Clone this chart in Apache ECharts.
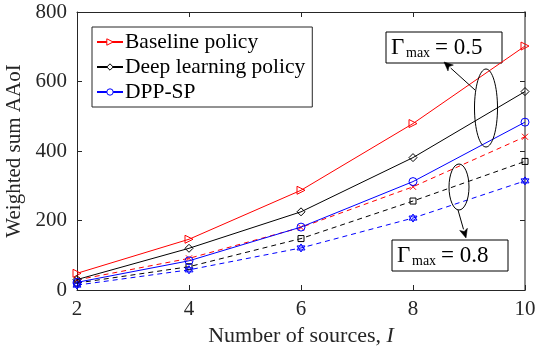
<!DOCTYPE html>
<html>
<head>
<meta charset="utf-8">
<script src="https://cdn.jsdelivr.net/npm/echarts@6/dist/echarts.min.js"></script>
<style>
  html, body { margin: 0; padding: 0; background: #fff; }
  #chart { width: 536px; height: 350px; }
</style>
</head>
<body>
<div id="chart"></div>
<script>
// Number of sources
const sources = [2, 4, 6, 8, 10];
const xTicks = [2, 4, 6, 8, 10];
const yTicks = [0, 200, 400, 600, 800];

// Weighted sum AAoI, Gamma_max = 0.5 (solid lines)
const baseline05 = [48, 146, 287, 479, 702];
const deep05 = [30, 120, 225, 381, 571];
const dpp05 = [22, 84, 181, 312, 483];

// Weighted sum AAoI, Gamma_max = 0.8 (dashed lines)
const baseline08 = [29, 91, 180, 297, 441];
const deep08 = [20, 67, 148, 256, 370];
const dpp08 = [14, 58, 121, 207, 314];

const legendNames = ['Baseline policy', 'Deep learning policy', 'DPP-SP'];

const SERIF = '"Liberation Serif", "DejaVu Serif", serif';
const AXIS = '#262626';
const RED = '#ff0000', BLACK = '#000000', BLUE = '#0000ff';

const pairs = arr => sources.map((x, i) => [x, arr[i]]);

const X_PATH = 'path://M0,0 L10,10 M10,0 L0,10';
const STAR_PATH = 'path://M5,0 L9.33,7.5 L0.67,7.5 Z M5,10 L0.67,2.5 L9.33,2.5 Z';

function series(name, data, color, dashed, symbol, size, rotate) {
  return {
    name: name,
    type: 'line',
    data: pairs(data),
    symbol: symbol,
    symbolSize: size,
    symbolRotate: rotate || 0,
    showSymbol: true,
    animation: false,
    lineStyle: { color: color, width: 1, type: dashed ? [5, 4] : 'solid' },
    itemStyle: { color: 'rgba(255,255,255,0)', borderColor: color, borderWidth: 1 },
    emphasis: { disabled: true },
    z: dashed ? 2 : 3
  };
}

const chart = echarts.init(document.getElementById('chart'), null, { renderer: 'canvas' });

const legendColors = [RED, BLACK, BLUE];

chart.setOption({
  backgroundColor: '#fff',
  animation: false,
  textStyle: { fontFamily: SERIF },
  grid: { left: 77, right: 11, top: 12, bottom: 60, containLabel: false, outerBoundsMode: 'none' },
  legend: {
    left: 92, top: 27,
    orient: 'vertical',
    backgroundColor: '#fff',
    borderColor: AXIS,
    borderWidth: 1,
    borderRadius: 0,
    padding: [4, 7, 4, 4],
    itemGap: 3,
    itemWidth: 26,
    itemHeight: 8,
    textStyle: { fontFamily: SERIF, fontSize: 21.5, color: '#000', padding: [0, 0, 0, -3] },
    data: legendNames.map((n, i) => ({
      name: n,
      itemStyle: { color: '#fff', borderColor: legendColors[i], borderWidth: 1 }
    }))
  },
  xAxis: [{
    type: 'value', min: 2, max: 10, interval: 2,
    name: 'Number of sources, {i|I}',
    nameLocation: 'middle', nameGap: 35,
    nameTextStyle: {
      fontFamily: SERIF, fontSize: 22, color: '#262626',
      rich: { i: { fontFamily: SERIF, fontSize: 22, fontStyle: 'italic', color: '#262626' } }
    },
    axisLine: { lineStyle: { color: AXIS, width: 1 } },
    axisTick: { inside: true, length: 5, lineStyle: { color: AXIS } },
    axisLabel: {
      fontFamily: SERIF, fontSize: 21, color: '#262626', margin: 9,
      customValues: xTicks
    },
    splitLine: { show: false }
  }, {
    type: 'value', min: 2, max: 10, interval: 2, position: 'top',
    axisLine: { show: true, onZero: false, lineStyle: { color: AXIS, width: 1 } },
    axisTick: { inside: true, length: 5, lineStyle: { color: AXIS } },
    axisLabel: { show: false },
    splitLine: { show: false }
  }],
  yAxis: [{
    type: 'value', min: 0, max: 800, interval: 200,
    name: 'Weighted sum AAoI',
    nameLocation: 'middle', nameGap: 47,
    nameTextStyle: { fontFamily: SERIF, fontSize: 21, color: '#262626' },
    axisLine: { show: true, lineStyle: { color: AXIS, width: 1 } },
    axisTick: { show: true, inside: true, length: 5, lineStyle: { color: AXIS } },
    axisLabel: { fontFamily: SERIF, fontSize: 21, color: '#262626', margin: 10, customValues: yTicks },
    splitLine: { show: false }
  }, {
    type: 'value', min: 0, max: 800, interval: 200, position: 'right',
    axisLine: { show: true, onZero: false, lineStyle: { color: '#8c8c8c', width: 2 } },
    axisTick: { show: true, inside: true, length: 5, lineStyle: { color: AXIS } },
    axisLabel: { show: false },
    splitLine: { show: false }
  }],
  series: [
    series(legendNames[0], baseline05, RED, false, 'triangle', 8, -90),
    series(legendNames[1], deep05, BLACK, false, 'diamond', 8, 0),
    series(legendNames[2], dpp05, BLUE, false, 'circle', 8, 0),
    series('Baseline policy, 0.8', baseline08, RED, true, X_PATH, 6, 0),
    series('Deep learning policy, 0.8', deep08, BLACK, true, 'rect', 6, 0),
    series('DPP-SP, 0.8', dpp08, BLUE, true, STAR_PATH, 8, 0)
  ]
});

// Gamma_max annotations: labelled boxes, ellipses around the curve groups, arrows
function gammaLabel(x, y, w, h, value) {
  return {
    type: 'group', x: x, y: y, z: 20,
    children: [
      { type: 'rect', shape: { x: 0, y: 0, width: w, height: h },
        style: { fill: '#fff', stroke: '#000', lineWidth: 1 } },
      { type: 'text', x: 5, y: h / 2,
        style: { text: '\u0393', fontFamily: SERIF, fontSize: 23, fill: '#000', verticalAlign: 'middle' } },
      { type: 'text', x: 20, y: h / 2 + 6,
        style: { text: 'max', fontFamily: SERIF, fontSize: 14, fill: '#000', verticalAlign: 'middle' } },
      { type: 'text', x: 49, y: h / 2,
        style: { text: '= ' + value, fontFamily: SERIF, fontSize: 23, fill: '#000', verticalAlign: 'middle' } }
    ]
  };
}

function arrow(x1, y1, x2, y2) {
  const a = Math.atan2(y2 - y1, x2 - x1);
  const L = 9, W = 4;
  const bx = x2 - L * Math.cos(a), by = y2 - L * Math.sin(a);
  const px = -Math.sin(a) * W, py = Math.cos(a) * W;
  return [
    { type: 'line', z: 20, shape: { x1: x1, y1: y1, x2: bx, y2: by }, style: { stroke: '#000', lineWidth: 1 } },
    { type: 'polygon', z: 20, shape: { points: [[x2, y2], [bx + px, by + py], [bx + L * 0.25 * Math.cos(a), by + L * 0.25 * Math.sin(a)], [bx - px, by - py]] },
      style: { fill: '#000', stroke: '#000', lineWidth: 0.5 } }
  ];
}

chart.setOption({
  graphic: [
    { type: 'ellipse', z: 20, shape: { cx: 486, cy: 108, rx: 11.5, ry: 39 },
      style: { fill: 'none', stroke: '#000', lineWidth: 1 } },
    { type: 'ellipse', z: 20, shape: { cx: 459, cy: 187, rx: 10, ry: 23 },
      style: { fill: 'none', stroke: '#000', lineWidth: 1 } },
    ...arrow(475, 90, 444, 62),
    ...arrow(458, 210, 466, 238),
    gammaLabel(386, 32, 116, 31, '0.5'),
    gammaLabel(392, 240, 116, 31, '0.8')
  ]
});
</script>
</body>
</html>
